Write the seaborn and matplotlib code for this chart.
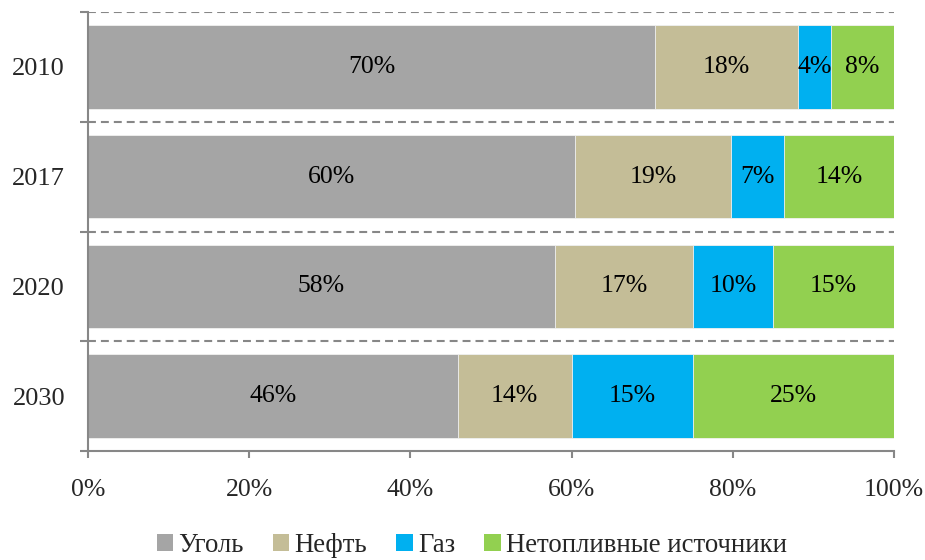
import numpy as np
import pandas as pd
import seaborn as sns
from matplotlib import pyplot as plt
from matplotlib.patches import Patch

years = ["2010", "2017", "2020", "2030"]
sources = ["Уголь", "Нефть", "Газ", "Нетопливные источники"]
coal = [70.4, 60.4, 57.9, 45.9]
oil = [17.7, 19.4, 17.2, 14.1]
gas = [4.1, 6.6, 9.9, 15.1]
other = [7.8, 13.6, 15.0, 24.9]
colors = ["#A5A5A5", "#C4BD97", "#00B0F0", "#92D050"]
xticks = [0, 20, 40, 60, 80, 100]

sns.set_style("white")
plt.rcParams["font.family"] = ["Liberation Serif", "DejaVu Serif"]

df = pd.DataFrame({"year": years, sources[0]: coal, sources[1]: oil,
                   sources[2]: gas, sources[3]: other})
cum = df[sources].cumsum(axis=1)
cum["year"] = df["year"]

fig = plt.figure(figsize=(9.25, 5.6), dpi=100)
ax = fig.add_axes([0.0951, 0.1946, 0.8714, 0.784])

# stacked bars: draw cumulative totals from the widest down
for src, col in reversed(list(zip(sources, colors))):
    sns.barplot(data=cum, x=src, y="year", order=years, orient="h",
                color=col, width=0.76, edgecolor="#f2f2f2", linewidth=0.6,
                saturation=1, ax=ax)

# value labels
for i, yr in enumerate(years):
    left = 0
    for src in sources:
        v = df.loc[i, src]
        ax.text(left + v / 2, i, "%d%%" % round(v), ha="center", va="center",
                fontsize=18.5, color="black")
        left += v

ax.set_xlim(0, 100)
ax.set_ylim(len(years) - 0.5, -0.5)
ax.set_xticks(xticks)
ax.set_xticklabels(["%d%%" % t for t in xticks], fontsize=18.5)
ax.set_yticks(range(len(years)))
ax.set_yticklabels(years, fontsize=19)
ax.set_yticks(np.arange(len(years) + 1) - 0.5, minor=True)
ax.set_xlabel("")
ax.set_ylabel("")

for yb in np.arange(len(years)) - 0.5:
    ax.axhline(yb, color="#878787", linestyle=(0, (3.8, 2.4)), linewidth=1.5,
               zorder=0)

for s in ["top", "right"]:
    ax.spines[s].set_visible(False)
for s in ["left", "bottom"]:
    ax.spines[s].set_color("#878787")
    ax.spines[s].set_linewidth(1.5)

ax.tick_params(axis="y", which="major", length=0, pad=16.5)
ax.tick_params(axis="y", which="minor", left=True, length=6, width=1.5,
               color="#878787")
ax.tick_params(axis="x", which="major", bottom=True, length=5, width=1.5,
               color="#878787", pad=15)

handles = [Patch(facecolor=c, edgecolor="none") for c in colors]
fig.legend(handles, sources, loc="lower center", ncol=4, frameon=False,
           fontsize=19.3, handlelength=0.6, handleheight=0.6,
           handletextpad=0.2, columnspacing=1.1,
           bbox_to_anchor=(0.51, -0.04))

fig.savefig("out.png", dpi=100)
